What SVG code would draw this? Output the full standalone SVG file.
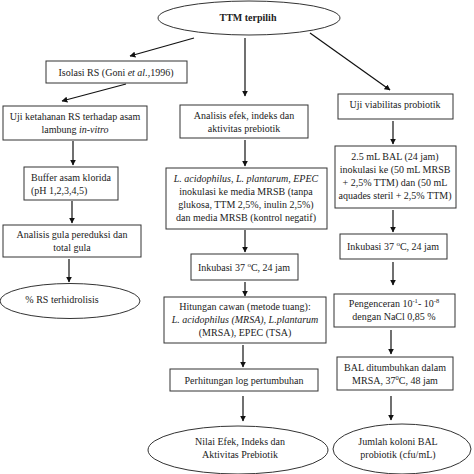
<svg xmlns="http://www.w3.org/2000/svg" width="474" height="474" viewBox="0 0 474 474" font-family="'Liberation Serif', 'Times New Roman', serif">
<defs>
<style>
.box{fill:#fff;stroke:#333;stroke-width:1}
.ell{fill:#fff;stroke:#333;stroke-width:1}
text{font-family:'Liberation Serif','Times New Roman',serif;font-size:10px;fill:#222;text-anchor:middle}
.b{font-weight:bold}
.i{font-style:italic}
.c{stroke:#111;stroke-width:1.2;fill:none;marker-end:url(#ah)}
.sh{fill:none;stroke-width:4}
</style>
<marker id="ah" viewBox="0 0 10 10" refX="9" refY="5" markerWidth="6" markerHeight="6" orient="auto" markerUnits="userSpaceOnUse">
<path d="M0,0 L10,5 L0,10 z" fill="#111"/>
</marker>
<linearGradient id="sg" x1="0" x2="1" y1="0" y2="0">
<stop offset="0" stop-color="#000" stop-opacity="0"/>
<stop offset="0.3" stop-color="#333" stop-opacity="0.9"/>
<stop offset="0.7" stop-color="#333" stop-opacity="0.9"/>
<stop offset="1" stop-color="#000" stop-opacity="0"/>
</linearGradient>
</defs>
<rect width="474" height="474" fill="#fff"/>

<g id="connectors">
<line class="c" x1="194" y1="38" x2="130" y2="56"/>
<line class="c" x1="245" y1="38" x2="245" y2="96"/>
<line class="c" x1="310" y1="33" x2="390" y2="90"/>
<line class="c" x1="126" y1="84" x2="62" y2="101"/>
<line class="c" x1="73" y1="141" x2="73" y2="165"/>
<line class="c" x1="72" y1="201" x2="72" y2="223"/>
<line class="c" x1="69" y1="259" x2="69" y2="282"/>
<line class="c" x1="245" y1="140" x2="245" y2="166"/>
<line class="c" x1="245" y1="230" x2="245" y2="252"/>
<line class="c" x1="245" y1="282" x2="245" y2="296"/>
<line class="c" x1="243" y1="345" x2="243" y2="367"/>
<line class="c" x1="243" y1="396" x2="243" y2="421"/>
<line class="c" x1="393" y1="121" x2="393" y2="144"/>
<line class="c" x1="393" y1="210" x2="393" y2="232"/>
<line class="c" x1="393" y1="262" x2="393" y2="285"/>
<line class="c" x1="391" y1="330" x2="391" y2="354"/>
<line class="c" x1="391" y1="396" x2="391" y2="420"/>
</g>

<g id="ttm">
<path class="sh" stroke="url(#sg)" d="M225,1 L305,1"/>
<ellipse class="ell" cx="249" cy="18" rx="91" ry="17"/>
<text class="b" x="248" y="21">TTM terpilih</text>
</g>

<g id="isolasi">
<rect class="box" x="46" y="61" width="141" height="22"/>
<text x="116" y="75.5">Isolasi RS (Goni <tspan class="i">et al.</tspan>,1996)</text>
</g>

<g id="uji-ketahanan">
<rect class="box" x="3" y="106" width="144" height="34"/>
<text x="75" y="120">Uji ketahanan RS terhadap asam</text>
<text x="75" y="133">lambung <tspan class="i">in-vitro</tspan></text>
</g>

<g id="buffer">
<rect class="box" x="24" y="167" width="94" height="33"/>
<text x="71" y="181" textLength="80" lengthAdjust="spacing">Buffer asam klorida</text>
<text x="31" y="194" style="text-anchor:start">(pH 1,2,3,4,5)</text>
</g>

<g id="analisis-gula">
<rect class="box" x="3" y="225" width="138" height="32"/>
<text x="72" y="238">Analisis gula pereduksi dan</text>
<text x="72" y="251">total gula</text>
</g>

<g id="rs-terhidrolisis">
<ellipse class="ell" cx="70" cy="301" rx="70" ry="17.5"/>
<text x="62" y="303">% RS terhidrolisis</text>
</g>

<g id="analisis-efek">
<rect class="box" x="180" y="105" width="128" height="33"/>
<text x="244" y="119">Analisis efek, indeks dan</text>
<text x="244" y="132">aktivitas prebiotik</text>
</g>

<g id="inokulasi-mrsb">
<rect class="box" x="166" y="168" width="161" height="61"/>
<text class="i" x="246" y="182">L. acidophilus, L. plantarum, EPEC</text>
<text x="246" y="195">inokulasi ke media MRSB (tanpa</text>
<text x="246" y="208">glukosa, TTM 2,5%, inulin 2,5%)</text>
<text x="246" y="221">dan media MRSB (kontrol negatif)</text>
</g>

<g id="inkubasi-1">
<rect class="box" x="191" y="254" width="107" height="26"/>
<text x="244" y="271">Inkubasi 37 <tspan font-size="7" dy="-4">o</tspan><tspan dy="4">C, 24 jam</tspan></text>
</g>

<g id="hitungan-cawan">
<rect class="box" x="164" y="297" width="162" height="46"/>
<text x="245" y="310">Hitungan cawan (metode tuang):</text>
<text x="245" y="323"><tspan class="i">L. acidophilus (MRSA)</tspan>, <tspan class="i">L.plantarum</tspan></text>
<text x="245" y="336">(MRSA), EPEC (TSA)</text>
</g>

<g id="perhitungan-log">
<rect class="box" x="170" y="369" width="148" height="22"/>
<text x="244" y="383.5">Perhitungan log pertumbuhan</text>
</g>

<g id="nilai-efek">
<ellipse class="ell" cx="238" cy="450" rx="90" ry="24"/>
<path class="sh" stroke="url(#sg)" d="M195,473 L285,473"/>
<text x="240" y="445">Nilai Efek, Indeks dan</text>
<text x="240" y="458">Aktivitas Prebiotik</text>
</g>

<g id="uji-viabilitas">
<rect class="box" x="338" y="94" width="115" height="25"/>
<text x="395" y="108">Uji viabilitas probiotik</text>
</g>

<g id="bal-inokulasi">
<rect class="box" x="335" y="146" width="121" height="62"/>
<text x="395" y="160">2.5 mL BAL (24 jam)</text>
<text x="395" y="173">inokulasi ke (50 mL MRSB</text>
<text x="395" y="186">+ 2,5% TTM) dan (50 mL</text>
<text x="395" y="199">aquades steril + 2,5% TTM)</text>
</g>

<g id="inkubasi-2">
<rect class="box" x="340" y="234" width="107" height="25"/>
<text x="393" y="250">Inkubasi 37 <tspan font-size="7" dy="-4">o</tspan><tspan dy="4">C, 24 jam</tspan></text>
</g>

<g id="pengenceran">
<rect class="box" x="334" y="294" width="121" height="33"/>
<text x="394" y="307">Pengenceran 10<tspan font-size="6.5" dy="-4">-1</tspan><tspan dy="4">- 10</tspan><tspan font-size="6.5" dy="-4">-8</tspan></text>
<text x="394" y="320">dengan NaCl 0,85 %</text>
</g>

<g id="bal-ditumbuhkan">
<rect class="box" x="337" y="357" width="116" height="33"/>
<text x="395" y="371">BAL ditumbuhkan dalam</text>
<text x="395" y="384">MRSA, 37<tspan font-size="6.5" dy="-4">0</tspan><tspan dy="4">C, 48 jam</tspan></text>
</g>

<g id="jumlah-koloni">
<ellipse class="ell" cx="402" cy="449" rx="69" ry="25"/>
<path class="sh" stroke="url(#sg)" d="M370,473 L440,473"/>
<text x="398" y="445">Jumlah koloni BAL</text>
<text x="398" y="458">probiotik (cfu/mL)</text>
</g>
</svg>
